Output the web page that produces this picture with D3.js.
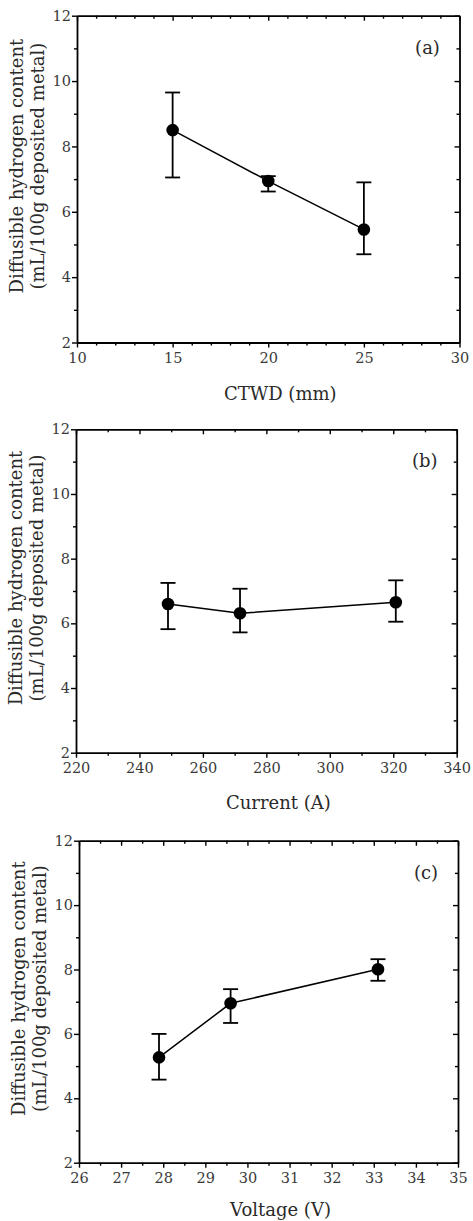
<!DOCTYPE html>
<html lang="en">
<head>
<meta charset="utf-8">
<title>Diffusible hydrogen content</title>
<script src="https://cdnjs.cloudflare.com/ajax/libs/d3/7.8.5/d3.min.js"></script>
<style>
  body { margin: 0; background: #fff; }
  text { font-family: "DejaVu Serif", "Liberation Serif", serif; }
  .tick text { fill: #3a3a3a; font-size: 14.5px; }
  .domain { stroke: #000; stroke-width: 1.8px; }
  .tick line { stroke: #000; stroke-width: 1.4px; }
  .title { fill: #2a2a2a; font-size: 18px; }
  .plabel { fill: #2a2a2a; font-size: 18px; }
</style>
</head>
<body>
<div id="graph"></div>
<script>
// (a) CTWD
const ctwd = [15, 20, 25];
const ctwdH = [8.50, 6.94, 5.46];
const ctwdLo = [7.05, 6.62, 4.70];
const ctwdHi = [9.65, 7.09, 6.90];

// (b) Current
const current = [249, 271.7, 320.8];
const currentH = [6.60, 6.31, 6.65];
const currentLo = [5.82, 5.72, 6.05];
const currentHi = [7.25, 7.07, 7.33];

// (c) Voltage
const voltage = [27.9, 29.6, 33.1];
const voltageH = [5.27, 6.95, 8.01];
const voltageLo = [4.58, 6.34, 7.65];
const voltageHi = [6.00, 7.39, 8.32];

const yTicks = [2, 4, 6, 8, 10, 12];
const yMinor = [3, 5, 7, 9, 11];

const W = 473, H = 1221;
const svg = d3.select("#graph").append("svg")
  .attr("width", W).attr("height", H);

const panels = [
  { x: ctwd, y: ctwdH, lo: ctwdLo, hi: ctwdHi,
    xDomain: [10, 30], xTicks: [10, 15, 20, 25, 30], xMinor: [11,12,13,14,16,17,18,19,21,22,23,24,26,27,28,29],
    xTitle: "CTWD (mm)", tag: "(a)", titleGap: 57,
    left: 77, right: 459.5, top: 15.7, bottom: 342.5 },
  { x: current, y: currentH, lo: currentLo, hi: currentHi,
    xDomain: [220, 340], xTicks: [220, 240, 260, 280, 300, 320, 340], xMinor: [230, 250, 270, 290, 310, 330],
    xTitle: "Current (A)", tag: "(b)", titleGap: 56,
    left: 76, right: 456.7, top: 429.3, bottom: 752.7 },
  { x: voltage, y: voltageH, lo: voltageLo, hi: voltageHi,
    xDomain: [26, 35], xTicks: [26, 27, 28, 29, 30, 31, 32, 33, 34, 35], xMinor: [26.5, 27.5, 28.5, 29.5, 30.5, 31.5, 32.5, 33.5, 34.5],
    xTitle: "Voltage (V)", tag: "(c)", titleGap: 53,
    left: 79, right: 458, top: 840.7, bottom: 1162.7 }
];

panels.forEach(p => {
  const xScale = d3.scaleLinear().domain(p.xDomain).range([p.left, p.right]);
  const yScale = d3.scaleLinear().domain([2, 12]).range([p.bottom, p.top]);
  const g = svg.append("g");

  // minor ticks first (no labels)
  g.append("g").attr("transform", "translate(0," + p.bottom + ")")
    .call(d3.axisBottom(xScale).tickValues(p.xMinor).tickSize(3).tickFormat(""))
    .select(".domain").remove();
  g.append("g").attr("transform", "translate(0," + p.top + ")")
    .call(d3.axisTop(xScale).tickValues(p.xMinor).tickSize(-3).tickFormat(""))
    .select(".domain").remove();
  g.append("g").attr("transform", "translate(" + p.left + ",0)")
    .call(d3.axisLeft(yScale).tickValues(yMinor).tickSize(3).tickFormat(""))
    .select(".domain").remove();
  g.append("g").attr("transform", "translate(" + p.right + ",0)")
    .call(d3.axisRight(yScale).tickValues(yMinor).tickSize(-3).tickFormat(""))
    .select(".domain").remove();

  // major ticks + frame
  g.append("g").attr("transform", "translate(0," + p.bottom + ")")
    .call(d3.axisBottom(xScale).tickValues(p.xTicks).tickSize(5).tickSizeOuter(0).tickPadding(5).tickFormat(d3.format("d")));
  g.append("g").attr("transform", "translate(0," + p.top + ")")
    .call(d3.axisTop(xScale).tickValues(p.xTicks).tickSize(-5).tickSizeOuter(0).tickFormat(""));
  g.append("g").attr("transform", "translate(" + p.left + ",0)")
    .call(d3.axisLeft(yScale).tickValues(yTicks).tickSize(5).tickSizeOuter(0).tickPadding(1).tickFormat(d3.format("d")));
  g.append("g").attr("transform", "translate(" + p.right + ",0)")
    .call(d3.axisRight(yScale).tickValues(yTicks).tickSize(-5).tickSizeOuter(0).tickFormat(""));

  // x title
  g.append("text").attr("class", "title")
    .attr("x", (p.left + p.right) / 2 + 12)
    .attr("y", p.bottom + p.titleGap)
    .attr("text-anchor", "middle")
    .text(p.xTitle);

  // y title (two lines)
  const cy = (p.top + p.bottom) / 2 - 13;
  g.append("text").attr("class", "title")
    .attr("transform", "translate(" + (p.left - 54) + "," + cy + ") rotate(-90)")
    .attr("text-anchor", "middle")
    .text("Diffusible hydrogen content");
  g.append("text").attr("class", "title")
    .attr("transform", "translate(" + (p.left - 33) + "," + cy + ") rotate(-90)")
    .attr("text-anchor", "middle")
    .text("(mL/100g deposited metal)");

  // panel tag
  g.append("text").attr("class", "plabel")
    .attr("x", p.right - 32)
    .attr("y", p.top + 38)
    .attr("text-anchor", "middle")
    .text(p.tag);

  const pts = p.x.map((v, i) => ({ x: v, y: p.y[i], lo: p.lo[i], hi: p.hi[i] }));

  // error bars
  const eb = g.selectAll(".err").data(pts).enter().append("g")
    .attr("stroke", "#000").attr("stroke-width", 1.8);
  eb.append("line")
    .attr("x1", d => xScale(d.x)).attr("x2", d => xScale(d.x))
    .attr("y1", d => yScale(d.lo)).attr("y2", d => yScale(d.hi));
  eb.append("line")
    .attr("x1", d => xScale(d.x) - 7.5).attr("x2", d => xScale(d.x) + 7.5)
    .attr("y1", d => yScale(d.hi)).attr("y2", d => yScale(d.hi));
  eb.append("line")
    .attr("x1", d => xScale(d.x) - 7.5).attr("x2", d => xScale(d.x) + 7.5)
    .attr("y1", d => yScale(d.lo)).attr("y2", d => yScale(d.lo));

  // connecting line
  g.append("path").datum(pts)
    .attr("fill", "none").attr("stroke", "#000").attr("stroke-width", 1.5)
    .attr("d", d3.line().x(d => xScale(d.x)).y(d => yScale(d.y)));

  // markers
  g.selectAll(".pt").data(pts).enter().append("circle")
    .attr("cx", d => xScale(d.x)).attr("cy", d => yScale(d.y))
    .attr("r", 6.3).attr("fill", "#000");
});
</script>
</body>
</html>
